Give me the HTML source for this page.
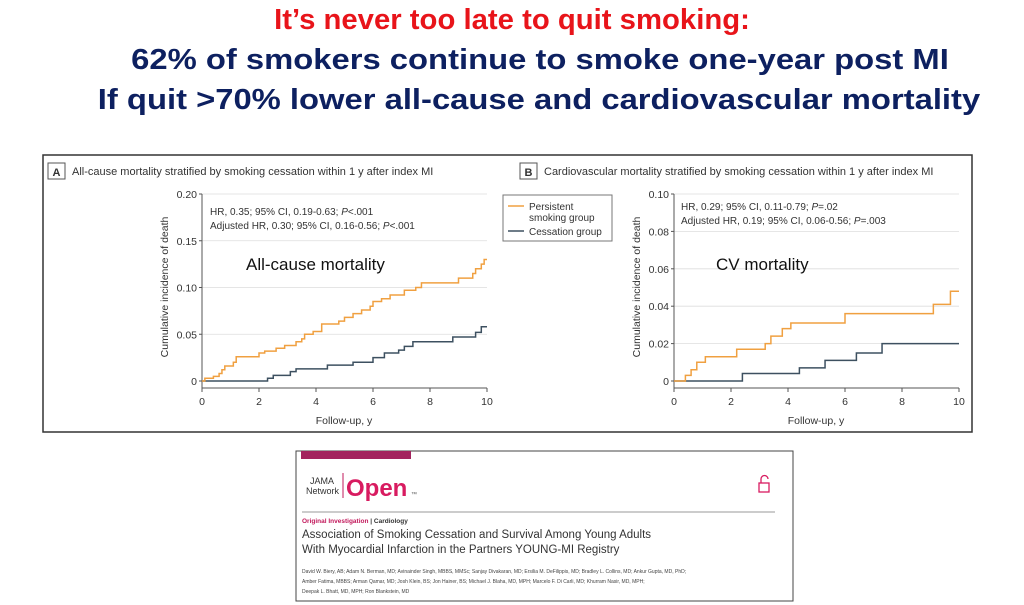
<!DOCTYPE html>
<html><head><meta charset="utf-8"><style>
body{margin:0;width:1024px;height:605px;background:#fff;position:relative;overflow:hidden;font-family:"Liberation Sans",sans-serif}
.h{position:absolute;left:0;width:1024px;text-align:center;font-weight:bold;font-size:29px;white-space:nowrap;line-height:34px}
</style></head><body>
<div class="h" style="top:3px;color:#e8141a;transform:scaleX(1.01)">It’s never too late to quit smoking:</div>
<div class="h" style="top:43px;left:28px;color:#0d2060;transform:scaleX(1.13)">62% of smokers continue to smoke one-year post MI</div>
<div class="h" style="top:83px;left:27px;color:#0d2060;transform:scaleX(1.13)">If quit &gt;70% lower all-cause and cardiovascular mortality</div>
<svg width="1024" height="605" style="position:absolute;left:0;top:0" font-family="Liberation Sans, sans-serif">
<rect x="43" y="155" width="929" height="277" fill="none" stroke="#333" stroke-width="1.5"/>
<rect x="48" y="163" width="17" height="16" fill="none" stroke="#555"/>
<text x="56.5" y="176" font-size="11" font-weight="bold" text-anchor="middle" fill="#333">A</text>
<text x="72" y="175" font-size="11" fill="#333">All-cause mortality stratified by smoking cessation within 1 y after index MI</text>
<rect x="520" y="163" width="17" height="16" fill="none" stroke="#555"/>
<text x="528.5" y="176" font-size="11" font-weight="bold" text-anchor="middle" fill="#333">B</text>
<text x="544" y="175" font-size="11" fill="#333">Cardiovascular mortality stratified by smoking cessation within 1 y after index MI</text>
<g id="A"></g><g id="B"></g>
<rect x="503" y="195" width="109" height="46" fill="none" stroke="#777"/>
<line x1="508" y1="206" x2="524" y2="206" stroke="#f0a040" stroke-width="1.5"/>
<line x1="508" y1="231" x2="524" y2="231" stroke="#3d5060" stroke-width="1.5"/>
<text x="529" y="210" font-size="10" fill="#333">Persistent</text>
<text x="529" y="221" font-size="10" fill="#333">smoking group</text>
<text x="529" y="235" font-size="10" fill="#333">Cessation group</text>
<text x="246" y="270" font-size="17" fill="#111">All-cause mortality</text>
<text x="716" y="270" font-size="17" fill="#111">CV mortality</text>
<text x="210" y="215" font-size="10" fill="#333">HR, 0.35; 95% CI, 0.19-0.63; <tspan font-style="italic">P</tspan>&lt;.001</text>
<text x="210" y="229" font-size="10" fill="#333">Adjusted HR, 0.30; 95% CI, 0.16-0.56; <tspan font-style="italic">P</tspan>&lt;.001</text>
<text x="681" y="210" font-size="10" fill="#333">HR, 0.29; 95% CI, 0.11-0.79; <tspan font-style="italic">P</tspan>=.02</text>
<text x="681" y="224" font-size="10" fill="#333">Adjusted HR, 0.19; 95% CI, 0.06-0.56; <tspan font-style="italic">P</tspan>=.003</text>
<rect x="296" y="451" width="497" height="150" fill="#fff" stroke="#444"/>
<rect x="301" y="451" width="110" height="8" fill="#a3245e"/>
<text x="334" y="484" font-size="9" text-anchor="end" fill="#333">JAMA</text>
<text x="339" y="494" font-size="9" text-anchor="end" fill="#333">Network</text>
<line x1="343" y1="473" x2="343" y2="498" stroke="#c2185b"/>
<text x="346" y="496" font-size="24" font-weight="bold" fill="#d81b60">Open</text>
<text x="411" y="496" font-size="6" fill="#555">™</text>
<rect x="759" y="483" width="10" height="9" fill="none" stroke="#d81b60" stroke-width="1.3"/>
<path d="M761 483 v-4 a3.5 3.5 0 0 1 7 0" fill="none" stroke="#d81b60" stroke-width="1.3"/>
<line x1="302" y1="512" x2="775" y2="512" stroke="#999"/>
<text x="302" y="523" font-size="6.5" font-weight="bold" fill="#c2185b">Original Investigation <tspan fill="#333">| Cardiology</tspan></text>
<text x="302" y="538" font-size="11.5" fill="#333">Association of Smoking Cessation and Survival Among Young Adults</text>
<text x="302" y="553" font-size="11.5" fill="#333">With Myocardial Infarction in the Partners YOUNG-MI Registry</text>
<text x="302" y="573" font-size="5" fill="#444">David W. Biery, AB; Adam N. Berman, MD; Avinainder Singh, MBBS, MMSc; Sanjay Divakaran, MD; Ersilia M. DeFilippis, MD; Bradley L. Collins, MD; Ankur Gupta, MD, PhD;</text>
<text x="302" y="583" font-size="5" fill="#444">Amber Fatima, MBBS; Arman Qamar, MD; Josh Klein, BS; Jon Hainer, BS; Michael J. Blaha, MD, MPH; Marcelo F. Di Carli, MD; Khurram Nasir, MD, MPH;</text>
<text x="302" y="593" font-size="5" fill="#444">Deepak L. Bhatt, MD, MPH; Ron Blankstein, MD</text>
</svg>
<script>
function panel(id,x0,ymax,L,ylab,orange,blue){
 var g=document.getElementById(id),s='',x1=x0+285,y0=381,yt=194,n=L.length-1;
 var X=function(v){return x0+v*28.5},Y=function(v){return y0-v/ymax*(y0-yt)};
 for(var i=0;i<=n;i++){var y=Y(ymax*i/n);
  if(i>0)s+='<line x1="'+x0+'" y1="'+y+'" x2="'+x1+'" y2="'+y+'" stroke="#ddd" stroke-width="0.8"/>';
  s+='<line x1="'+(x0-3)+'" y1="'+y+'" x2="'+x0+'" y2="'+y+'" stroke="#555"/>';
  s+='<text x="'+(x0-5)+'" y="'+(y+4)+'" font-size="10.5" text-anchor="end" fill="#333">'+L[i]+'</text>';}
 s+='<line x1="'+x0+'" y1="'+yt+'" x2="'+x0+'" y2="'+(y0+7)+'" stroke="#555"/>';
 s+='<line x1="'+x0+'" y1="'+(y0+7)+'" x2="'+x1+'" y2="'+(y0+7)+'" stroke="#555"/>';
 for(var t=0;t<=10;t+=2){var x=X(t);s+='<line x1="'+x+'" y1="'+(y0+7)+'" x2="'+x+'" y2="'+(y0+11)+'" stroke="#555"/><text x="'+x+'" y="'+(y0+24)+'" font-size="10.5" text-anchor="middle" fill="#333">'+t+'</text>';}
 s+='<text x="'+(x0+142)+'" y="'+(y0+43)+'" font-size="10.5" text-anchor="middle" fill="#333">Follow-up, y</text>';
 s+='<text transform="translate('+ylab+',287) rotate(-90)" font-size="10.5" text-anchor="middle" fill="#333">Cumulative incidence of death</text>';
 function path(d,c){var p='M'+X(0)+' '+Y(0);d.forEach(function(q){p+=' H'+X(q[0])+' V'+Y(q[1]);});p+=' H'+X(10);
  return '<path d="'+p+'" fill="none" stroke="'+c+'" stroke-width="1.5"/>';}
 s+=path(blue,'#3d5060')+path(orange,'#f0a040');
 g.innerHTML=s;}
panel('A',202,0.2,['0','0.05','0.10','0.15','0.20'],168,
[[0.1,.003],[0.4,.005],[0.6,.008],[0.7,.012],[0.8,.016],[1.1,.02],[1.2,.026],[2.0,.03],[2.2,.032],[2.6,.035],[2.9,.038],[3.3,.042],[3.5,.045],[3.6,.05],[3.9,.053],[4.2,.061],[4.8,.064],[5.0,.068],[5.3,.072],[5.6,.076],[5.9,.08],[6.0,.085],[6.3,.088],[6.6,.092],[7.1,.097],[7.5,.1],[7.7,.105],[9.0,.11],[9.5,.115],[9.6,.12],[9.8,.125],[9.9,.13]],
[[2.3,.003],[2.5,.006],[3.1,.01],[3.3,.013],[4.4,.017],[5.3,.02],[6.0,.025],[6.4,.03],[6.9,.033],[7.1,.037],[7.4,.042],[8.8,.047],[9.6,.052],[9.8,.058]]);
panel('B',674,0.1,['0','0.02','0.04','0.06','0.08','0.10'],640,
[[0.4,.003],[0.6,.006],[0.8,.01],[1.1,.013],[2.2,.017],[3.2,.02],[3.4,.024],[3.8,.028],[4.1,.031],[6.0,.036],[9.1,.041],[9.7,.048]],
[[2.4,.004],[4.4,.007],[5.3,.011],[6.4,.015],[7.3,.02]]);
</script>
</body></html>
